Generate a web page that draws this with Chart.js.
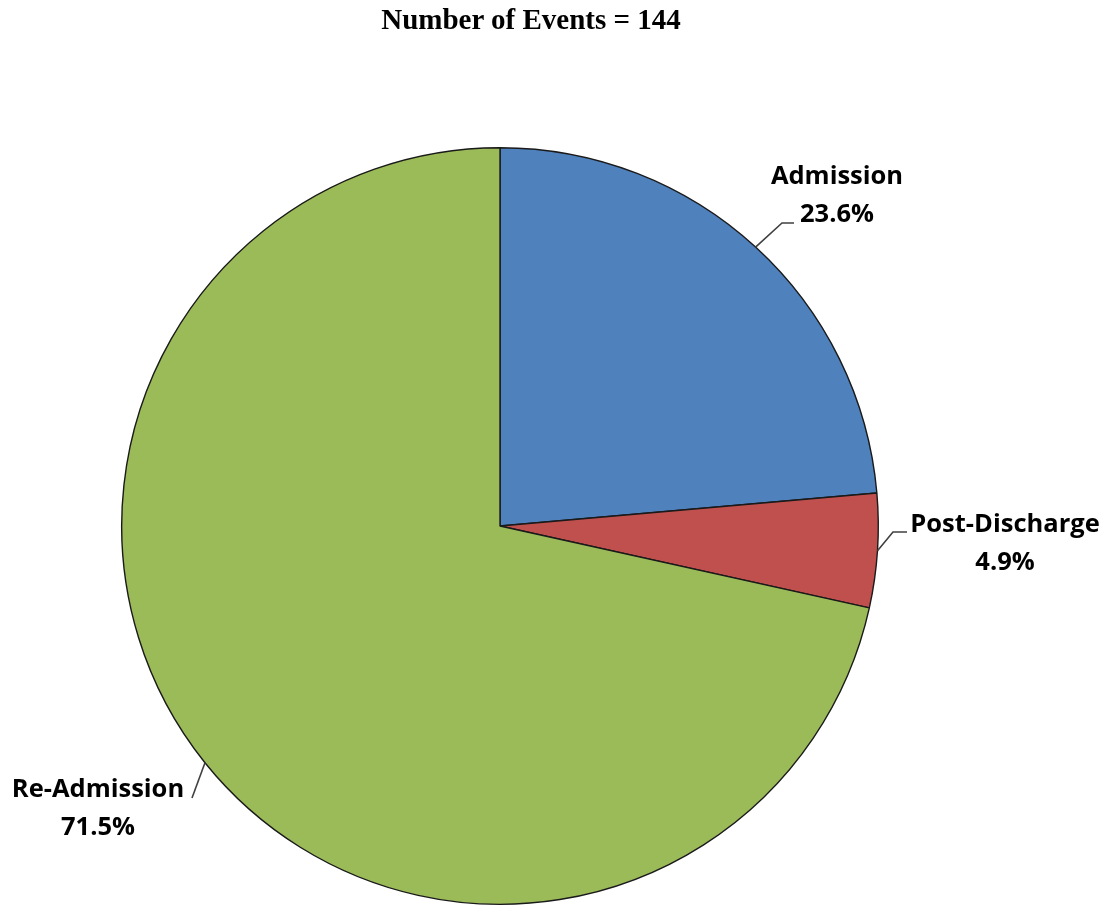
<!DOCTYPE html>
<html>
<head>
<meta charset="utf-8">
<script src="https://cdn.jsdelivr.net/npm/chart.js@4"></script>
<style>
  html, body { margin: 0; padding: 0; background: #fff; }
  #wrap { position: relative; width: 1108px; height: 907px; }
  #title {
    position: absolute; left: 0; top: 3px; width: 1062px; text-align: center;
    font-family: "Liberation Serif", "Times New Roman", serif; font-weight: bold; font-size: 29px; color: #000;
  }
</style>
</head>
<body>
<div id="wrap">
  <div id="title">Number of Events = 144</div>
  <canvas id="piechart" width="1108" height="907"></canvas>
</div>
<script>
// data
const labels = ['Admission', 'Post-Discharge', 'Re-Admission'];
const counts = [34, 7, 103];
const colors = ['#4F81BD', '#C0504D', '#9BBB59'];

const total = counts.reduce((a, b) => a + b, 0);

// label placement: text centre + leader line (elbow, end)
const labelPos = [
  { x: 837, y: 177, elbow: [782, 223], end: [794, 223] },
  { x: 1005, y: 525, elbow: [893, 532], end: [907, 532] },
  { x: 98, y: 790, elbow: [192, 798], end: [192, 798] }
];

const labelPlugin = {
  id: 'labelPlugin',
  afterDraw(chart) {
    const ctx = chart.ctx;
    const meta = chart.getDatasetMeta(0);
    ctx.save();
    meta.data.forEach((arc, i) => {
      const p = labelPos[i];
      const mid = (arc.startAngle + arc.endAngle) / 2;
      const sx = arc.x + Math.cos(mid) * arc.outerRadius;
      const sy = arc.y + Math.sin(mid) * arc.outerRadius;
      ctx.strokeStyle = '#404040';
      ctx.lineWidth = 1.6;
      ctx.beginPath();
      ctx.moveTo(sx, sy);
      ctx.lineTo(p.elbow[0], p.elbow[1]);
      ctx.lineTo(p.end[0], p.end[1]);
      ctx.stroke();

      ctx.fillStyle = '#000';
      ctx.font = 'bold 25.5px "Open Sans", "Liberation Sans", sans-serif';
      ctx.textAlign = 'center';
      ctx.textBaseline = 'middle';
      ctx.fillText(labels[i], p.x, p.y);
      const pct = (counts[i] / total * 100).toFixed(1) + '%';
      ctx.fillText(pct, p.x, p.y + 38);
    });
    ctx.restore();
  }
};

new Chart(document.getElementById('piechart'), {
  type: 'pie',
  data: {
    labels: labels,
    datasets: [{
      data: counts,
      backgroundColor: colors,
      borderColor: '#1a1a1a',
      borderWidth: 1.4
    }]
  },
  options: {
    responsive: false,
    animation: false,
    layout: { padding: { left: 121, right: 229, top: 147, bottom: 2 } },
    plugins: {
      legend: { display: false },
      tooltip: { enabled: false }
    }
  },
  plugins: [labelPlugin]
});
</script>
</body>
</html>
